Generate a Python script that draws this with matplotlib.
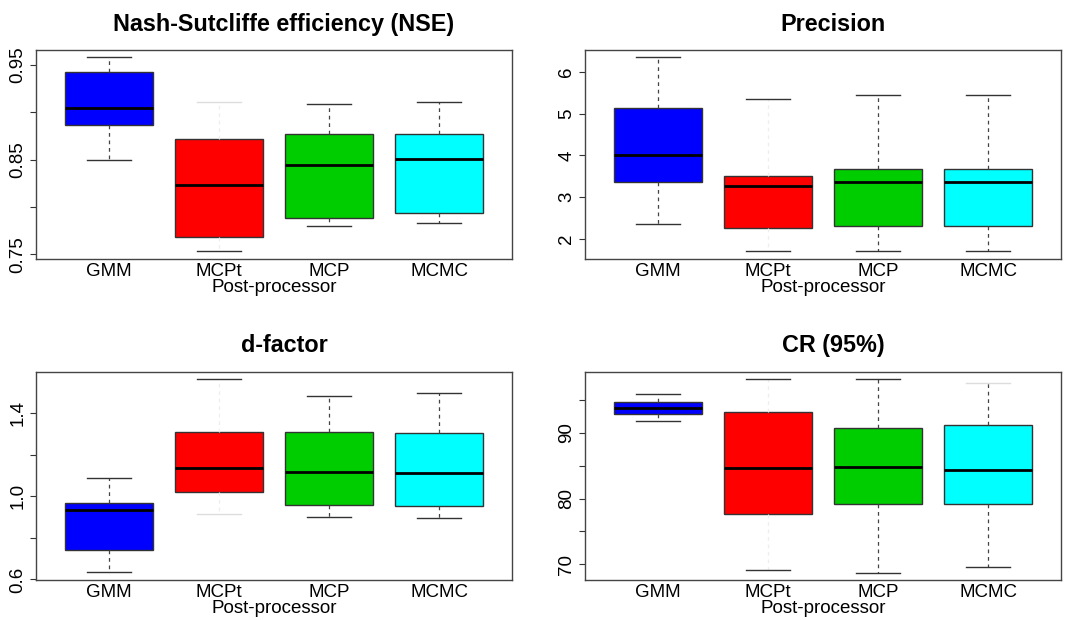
import matplotlib
matplotlib.use("Agg")
import matplotlib.pyplot as plt

plt.rcParams["font.family"] = ["Liberation Sans", "DejaVu Sans"]

methods = ["GMM", "MCPt", "MCP", "MCMC"]
colors = ["#0000FF", "#FF0000", "#00CD00", "#00FFFF"]

# box statistics: lower whisker, Q1, median, Q3, upper whisker
nse_lo = [0.850, 0.754, 0.780, 0.783]
nse_q1 = [0.887, 0.768, 0.788, 0.794]
nse_med = [0.905, 0.823, 0.844, 0.851]
nse_q3 = [0.943, 0.872, 0.877, 0.877]
nse_hi = [0.958, 0.911, 0.909, 0.911]

prec_lo = [2.36, 1.70, 1.70, 1.70]
prec_q1 = [3.36, 2.26, 2.31, 2.31]
prec_med = [4.00, 3.27, 3.35, 3.35]
prec_q3 = [5.14, 3.51, 3.68, 3.68]
prec_hi = [6.36, 5.35, 5.44, 5.44]

df_lo = [0.634, 0.916, 0.902, 0.896]
df_q1 = [0.741, 1.019, 0.958, 0.953]
df_med = [0.932, 1.136, 1.116, 1.111]
df_q3 = [0.966, 1.310, 1.310, 1.307]
df_hi = [1.088, 1.564, 1.482, 1.496]

cr_lo = [91.8, 69.1, 68.7, 69.6]
cr_q1 = [92.9, 77.7, 79.1, 79.2]
cr_med = [93.8, 84.6, 84.8, 84.4]
cr_q3 = [94.7, 93.2, 90.8, 91.2]
cr_hi = [95.9, 98.2, 98.2, 97.7]

panels = [
    ("Nash-Sutcliffe efficiency (NSE)", (nse_lo, nse_q1, nse_med, nse_q3, nse_hi),
     (0.745, 0.9655), [0.75, 0.80, 0.85, 0.90, 0.95], ["0.75", "", "0.85", "", "0.95"]),
    ("Precision", (prec_lo, prec_q1, prec_med, prec_q3, prec_hi),
     (1.51, 6.52), [2, 3, 4, 5, 6], ["2", "3", "4", "5", "6"]),
    ("d-factor", (df_lo, df_q1, df_med, df_q3, df_hi),
     (0.597, 1.60), [0.6, 0.8, 1.0, 1.2, 1.4], ["0.6", "", "1.0", "", "1.4"]),
    ("CR (95%)", (cr_lo, cr_q1, cr_med, cr_q3, cr_hi),
     (67.56, 99.36), [70, 75, 80, 85, 90, 95], ["70", "", "80", "", "90", ""]),
]

# caps that come out almost washed out in the original (index into bp["caps"])
faint_caps = [[3], [], [2], [7]]

# axes rectangles in figure fraction
rects = [
    [0.0333, 0.582, 0.4407, 0.337],
    [0.5417, 0.582, 0.4404, 0.337],
    [0.0333, 0.0645, 0.4407, 0.336],
    [0.5417, 0.0645, 0.4404, 0.336],
]

fig = plt.figure(figsize=(10.8, 6.2), dpi=100)
for (title, (lo, q1, med, q3, hi), ylim, yt, ytl), r, fc in zip(panels, rects, faint_caps):
    ax = fig.add_axes(r)
    stats = [dict(label=m, whislo=a, q1=b, med=c, q3=d, whishi=e, fliers=[])
             for m, a, b, c, d, e in zip(methods, lo, q1, med, q3, hi)]
    bp = ax.bxp(stats, positions=[1, 2, 3, 4], widths=0.8, capwidths=0.4,
                patch_artist=True, showfliers=False,
                boxprops=dict(edgecolor="#333333", linewidth=1.0),
                medianprops=dict(color="black", linewidth=2.0),
                whiskerprops=dict(color="#444444", linewidth=0.9, linestyle=(0, (3, 3))),
                capprops=dict(color="#333333", linewidth=1.0))
    for patch, c in zip(bp["boxes"], colors):
        patch.set_facecolor(c)
    # MCPt whiskers are barely visible in the original
    for w in bp["whiskers"][2:4]:
        w.set_color("#eeeeee")
    for i in fc:
        bp["caps"][i].set_color("#dddddd")
    ax.set_xlim(0.34, 4.66)
    ax.set_ylim(*ylim)
    ax.set_yticks(yt)
    ax.set_yticklabels(ytl)
    ax.tick_params(axis="y", labelrotation=90, length=4, width=0.8, pad=3,
                   labelsize=13.5, color="#333333")
    for lab in ax.get_yticklabels():
        lab.set_va("center")
    ax.tick_params(axis="x", length=0, pad=3, labelsize=13.5)
    ax.set_xlabel("Post-processor", fontsize=13.5, labelpad=-1)
    ax.set_title(title, fontsize=16.8, fontweight="bold", pad=14, x=0.521)
    for s in ax.spines.values():
        s.set_color("#444444")
        s.set_linewidth(1.0)

fig.savefig("out.png", dpi=100)
